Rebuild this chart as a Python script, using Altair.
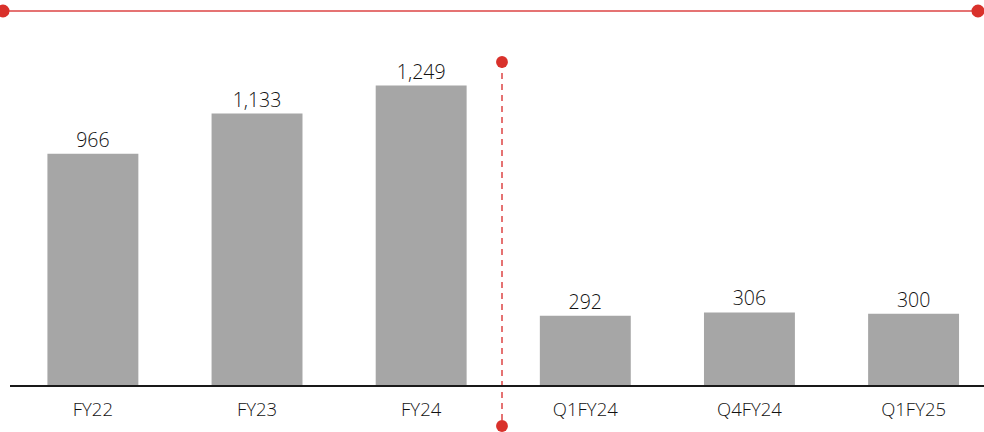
import altair as alt
import pandas as pd

# Annual and quarterly totals
categories = ["FY22", "FY23", "FY24", "Q1FY24", "Q4FY24", "Q1FY25"]
values = [966, 1133, 1249, 292, 306, 300]
labels = ["966", "1,133", "1,249", "292", "306", "300"]

df = pd.DataFrame({"period": categories, "value": values, "label": labels})

W, H = 984, 432
BASE = 386
FONT = "Open Sans"
RED = "#d9312b"
LINE_RED = "#e57373"

x = alt.X(
    "period:N",
    sort=categories,
    scale=alt.Scale(range=[10, 984], paddingInner=0.446, paddingOuter=0.19, align=0.6),
    axis=None,
)
y = alt.Y("value:Q", scale=alt.Scale(domain=[0, 1605], range=[BASE, 0]), axis=None)

bars = alt.Chart(df).mark_bar(color="#a6a6a6").encode(x=x, y=y)

value_text = alt.Chart(df).mark_text(
    font=FONT, fontSize=19.5, fontWeight=300, color="#111111", baseline="bottom", dy=-3
).encode(x=x, y=y, text="label:N")

cat_text = alt.Chart(df).mark_text(
    font=FONT, fontSize=18.5, fontWeight=300, color="#111111", baseline="middle"
).encode(x=x, y=alt.value(410), text="period:N")

baseline = alt.Chart(df).mark_rule(color="#1a1a1a", strokeWidth=1.3).encode(
    x=alt.value(10), x2=alt.value(984), y=alt.value(BASE)
)

top_line = alt.Chart(df).mark_rule(color=LINE_RED, strokeWidth=1.5).encode(
    x=alt.value(0), x2=alt.value(984), y=alt.value(11)
)

divider = alt.Chart(df).mark_rule(color=LINE_RED, strokeWidth=1.5, strokeDash=[6, 5]).encode(
    x=alt.value(502), y=alt.value(62), y2=alt.value(426)
)


def dot(px, py, size):
    return alt.Chart(df.head(1)).mark_circle(color=RED, opacity=1, size=size).encode(
        x=alt.value(px), y=alt.value(py)
    )


dots = [dot(3, 11, 170), dot(978, 11, 170), dot(502, 62, 140), dot(502, 426, 140)]

chart = alt.layer(top_line, divider, bars, baseline, value_text, cat_text, *dots).properties(
    width=W, height=H, autosize="none", padding=0, background="white"
).configure_view(stroke=None, strokeWidth=0)

chart.save("out.html", embed_options={"renderer": "svg", "actions": False})
